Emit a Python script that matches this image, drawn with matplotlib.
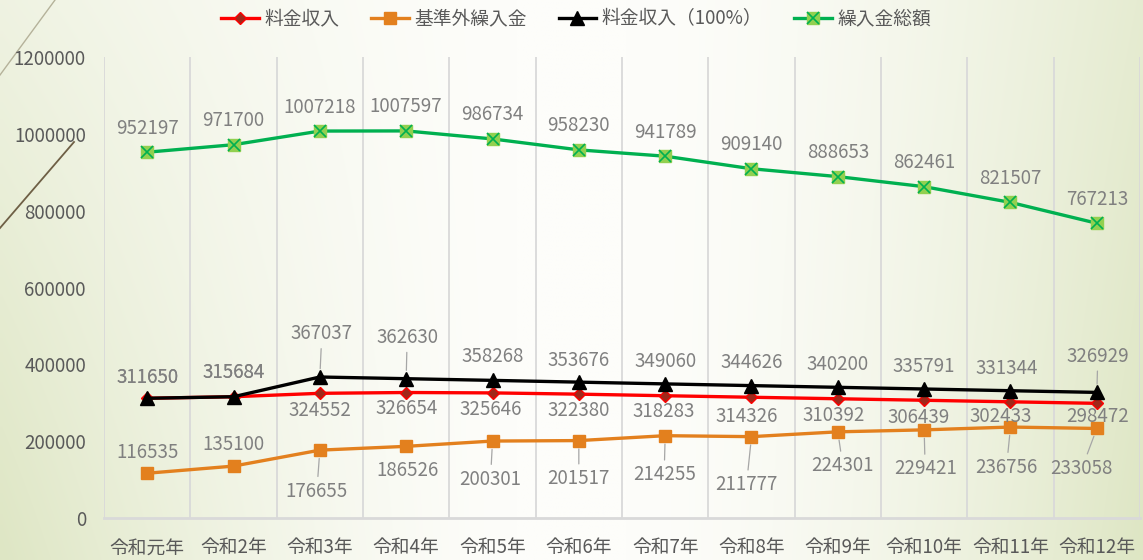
import numpy as np
import matplotlib
matplotlib.use("Agg")
import matplotlib.pyplot as plt
from matplotlib.legend_handler import HandlerTuple

plt.rcParams['font.family'] = ['Noto Sans CJK JP', 'DejaVu Sans']

categories = ["令和元年", "令和2年", "令和3年", "令和4年", "令和5年", "令和6年",
              "令和7年", "令和8年", "令和9年", "令和10年", "令和11年", "令和12年"]
ryokin = [311650, 315684, 324552, 326654, 325646, 322380, 318283, 314326, 310392, 306439, 302433, 298472]
kijungai = [116535, 135100, 176655, 186526, 200301, 201517, 214255, 211777, 224301, 229421, 236756, 233058]
ryokin100 = [311650, 315684, 367037, 362630, 358268, 353676, 349060, 344626, 340200, 335791, 331344, 326929]
kurire = [952197, 971700, 1007218, 1007597, 986734, 958230, 941789, 909140, 888653, 862461, 821507, 767213]
series_names = ["料金収入", "基準外繰入金", "料金収入（100%）", "繰入金総額"]
yticks = [0, 200000, 400000, 600000, 800000, 1000000, 1200000]

W, H = 1143, 560
fig = plt.figure(figsize=(W / 100, H / 100), dpi=100)

# background gradient
bg = fig.add_axes([0, 0, 1, 1], zorder=-10)
nx, ny = 240, 120
xs = np.linspace(0, 1, nx)[None, :]
ys = np.linspace(0, 1, ny)[:, None]  # 0 top, 1 bottom
tl = np.clip(1 - xs / 0.45, 0, 1) ** 1.4 * (0.45 + 0.55 * ys)
tr = np.clip((xs - 0.55) / 0.45, 0, 1) ** 1.6 * (0.75 + 0.25 * ys)
t = np.clip(np.maximum(tl, tr), 0, 1)
white = np.array([253, 253, 250]) / 255
green = np.array([222, 230, 196]) / 255
img = white[None, None, :] * (1 - t[..., None]) + green[None, None, :] * t[..., None]
bg.imshow(img, extent=[0, W, H, 0], aspect='auto', interpolation='bilinear')
bg.plot([0, 55], [75, 0], color='#b5b29a', lw=1.0)
bg.plot([0, 74], [228, 142], color='#6e5f45', lw=1.3)
bg.set_xlim(0, W)
bg.set_ylim(H, 0)
bg.axis('off')

left, right, top, bottom = 104, 1140, 57, 518
ax = fig.add_axes([left / W, 1 - bottom / H, (right - left) / W, (bottom - top) / H])
ax.set_facecolor('none')
x = np.arange(len(categories))

ax.set_xlim(-0.5, len(categories) - 0.5)
ax.set_ylim(0, 1200000)
for b in np.arange(-0.5, len(categories), 1.0):
    ax.axvline(b, color='#d9d9d9', lw=1.3, zorder=0)
for s in ['left', 'right', 'top']:
    ax.spines[s].set_visible(False)
ax.spines['bottom'].set_color('#d9d9d9')
ax.spines['bottom'].set_linewidth(2)

ax.set_yticks(yticks)
ax.set_yticklabels([str(v) for v in yticks])
ax.set_xticks(x)
ax.set_xticklabels(categories)
ax.tick_params(axis='both', length=0, colors='#595959', labelsize=13.5)
ax.tick_params(axis='y', pad=13)
ax.tick_params(axis='x', pad=14)

lw = 2.4
l_green, = ax.plot(x, kurire, color='#00b050', lw=lw, marker='s', ms=9,
                   mfc='#92d050', mec='#92d050', zorder=3)
x_green, = ax.plot(x, kurire, ls='none', marker='x', ms=8, mec='#00b050', mew=1.2, zorder=4)
l_orange, = ax.plot(x, kijungai, color='#e3801e', lw=lw, marker='s', ms=9,
                    mfc='#e3801e', mec='#e3801e', zorder=3)
l_red, = ax.plot(x, ryokin, color='#ff0000', lw=lw, marker='D', ms=6,
                 mfc='#a0281a', mec='#ff0000', mew=1, zorder=4)
l_black, = ax.plot(x, ryokin100, color='#000000', lw=lw, marker='^', ms=10,
                   mfc='#000000', zorder=5)

lab_color = '#808080'

def labels(vals, offs, leads=None):
    for i, v in enumerate(vals):
        dx, dy = offs[i]
        lead = leads[i] if leads else False
        kw = {}
        if lead:
            kw['arrowprops'] = dict(arrowstyle='-', color='#a6a6a6', lw=0.9,
                                    shrinkA=1, shrinkB=6)
        ax.annotate(str(v), (x[i], v), xytext=(dx, dy), textcoords='offset pixels',
                    ha='center', va='center', fontsize=13.5, color=lab_color,
                    zorder=6, **kw)

green_off = [(0, 24)] * 12
black_off = [(0, 21), (0, 24), (2, 43), (1, 41), (0, 24), (0, 22), (0, 22), (0, 23),
             (0, 23), (0, 23), (-4, 22), (1, 36)]
black_lead = [False, False, True, True, False, False, False, False, False, False, False, True]
red_off = [(0, 21), (0, 24), (0, -17), (1, -16), (-2, -17), (0, -16), (-1, -16), (-5, -19),
           (-4, -17), (-6, -17), (-10, -15), (1, -13)]
orange_off = [(0, 21), (0, 22), (-3, -41), (1, -24), (-2, -38), (0, -38), (-1, -39),
              (-5, -48), (5, -34), (1, -39), (-4, -40), (-15, -40)]
orange_lead = [False, False, True, False, True, True, True, True, True, True, True, True]

labels(kurire, green_off)
labels(ryokin100, black_off, black_lead)
labels(ryokin, red_off)
labels(kijungai, orange_off, orange_lead)

handles = [l_red, l_orange, l_black, (l_green, x_green)]
fig.legend(handles, series_names, loc='center', bbox_to_anchor=(0.504, 0.966), ncol=4,
           frameon=False, fontsize=13.5, labelcolor='#595959', handlelength=2.0,
           columnspacing=1.7, handletextpad=0.3,
           handler_map={tuple: HandlerTuple(ndivide=1, pad=0)})

fig.savefig('out.png', dpi=100)
